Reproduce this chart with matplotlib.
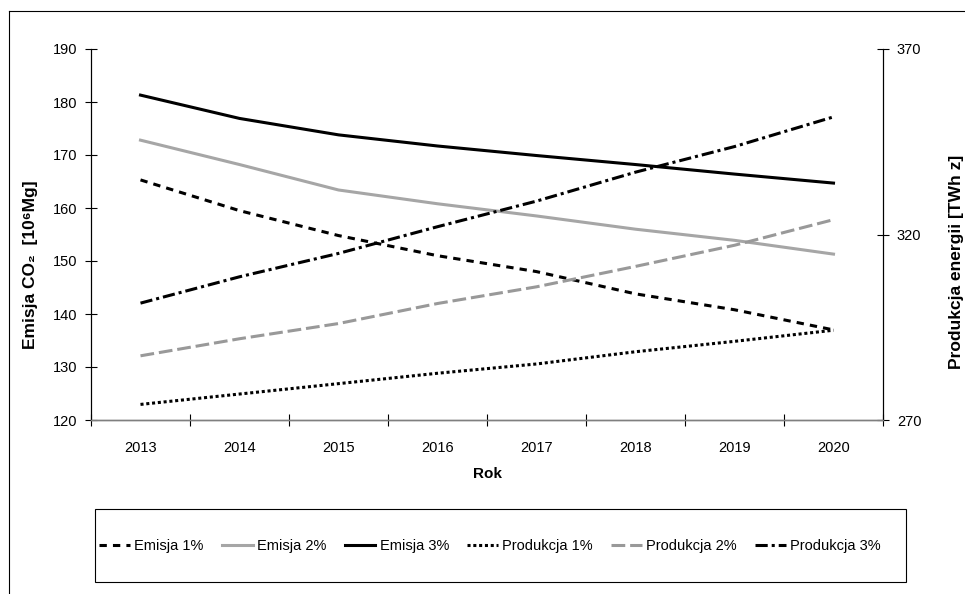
import matplotlib
matplotlib.use("Agg")
import matplotlib.pyplot as plt
from matplotlib.lines import Line2D
from matplotlib.patches import Rectangle

plt.rcParams['font.family'] = ['Liberation Sans', 'DejaVu Sans']
plt.rcParams['font.size'] = 10.5

# Data
years = ['2013', '2014', '2015', '2016', '2017', '2018', '2019', '2020']
emisja_1 = [165.3, 159.5, 154.8, 151.0, 148.0, 143.8, 140.8, 137.0]
emisja_2 = [172.8, 168.2, 163.4, 160.8, 158.5, 156.0, 153.9, 151.3]
emisja_3 = [181.3, 176.9, 173.8, 171.7, 169.9, 168.2, 166.4, 164.7]
produkcja_1 = [274.2, 277.0, 279.8, 282.6, 285.1, 288.4, 291.2, 294.2]
produkcja_2 = [287.3, 291.9, 296.0, 301.4, 305.9, 311.4, 317.1, 324.0]
produkcja_3 = [301.5, 308.6, 314.9, 322.1, 329.0, 336.8, 343.7, 351.7]

x = list(range(len(years)))

fig = plt.figure(figsize=(9.65, 5.94), dpi=100)
ax = fig.add_axes([91 / 965, 1 - 420 / 594, 792 / 965, 371 / 594])
ax2 = ax.twinx()

# Emission series on the left axis
ax.plot(x, emisja_1, color='black', lw=2.2, linestyle=(0, (2.4, 2.0)), label='Emisja 1%')
ax.plot(x, emisja_2, color='#a6a6a6', lw=2.2, label='Emisja 2%')
ax.plot(x, emisja_3, color='black', lw=2.2, label='Emisja 3%')

# Production series on the right axis
ax2.plot(x, produkcja_1, color='black', lw=2.2, linestyle=(0, (1, 0.9)), label='Produkcja 1%')
ax2.plot(x, produkcja_2, color='#999999', lw=2.2, linestyle=(0, (4.5, 1.6)), label='Produkcja 2%')
ax2.plot(x, produkcja_3, color='black', lw=2.2, linestyle=(0, (4, 1.3, 1, 1.3)), label='Produkcja 3%')

ax.set_xlim(-0.5, 7.5)
ax.set_ylim(120, 190)
ax2.set_ylim(270, 370)
ax.set_yticks(range(120, 191, 10))
ax2.set_yticks([270, 320, 370])

# labels at category centres, tick marks between categories
ax.set_xticks(x)
ax.set_xticklabels(years)
ax.set_xticks([i - 0.5 for i in range(len(years) + 1)], minor=True)
ax.tick_params(axis='x', which='major', length=0, pad=15)
ax.tick_params(axis='x', which='minor', length=8, direction='inout', width=0.8)
ax.tick_params(axis='y', length=8, direction='inout', width=0.8, pad=6)
ax2.tick_params(axis='y', length=8, direction='inout', width=0.8, pad=6)

for a in (ax, ax2):
    a.spines['top'].set_visible(False)
    a.spines['left'].set_linewidth(0.8)
    a.spines['right'].set_linewidth(0.8)
    a.spines['bottom'].set_linewidth(1.0)
    a.spines['bottom'].set_color('#7f7f7f')
    a.patch.set_visible(False)

ax.set_xlabel('Rok', fontweight='bold', fontsize=11, labelpad=9)

fig.text(31 / 965, 1 - 265 / 594, 'Emisja CO₂  [10⁶Mg]', rotation=90, fontweight='bold',
         fontsize=12.5, ha='center', va='center')
fig.text(957 / 965, 1 - 262 / 594, 'Produkcja energii [TWh z]', rotation=90, fontweight='bold',
         fontsize=12.5, ha='center', va='center')

# outer chart border (left and top edge visible)
fig.add_artist(Line2D([9 / 965, 9 / 965], [0, 1 - 11 / 594], color='black', lw=0.8))
fig.add_artist(Line2D([9 / 965, 1], [1 - 11 / 594, 1 - 11 / 594], color='black', lw=0.8))

# legend box
fig.add_artist(Rectangle((95 / 965, 1 - 582 / 594), 811 / 965, 73 / 594, transform=fig.transFigure,
                         fill=False, edgecolor='black', lw=0.8))
h1, l1 = ax.get_legend_handles_labels()
h2, l2 = ax2.get_legend_handles_labels()
fig.legend(h1 + h2, l1 + l2, ncol=6, frameon=False, loc='center',
           bbox_to_anchor=(490 / 965, 1 - 546 / 594), handlelength=2.1,
           columnspacing=1.25, handletextpad=0.3, borderpad=0)

fig.savefig('out.png', dpi=100)
